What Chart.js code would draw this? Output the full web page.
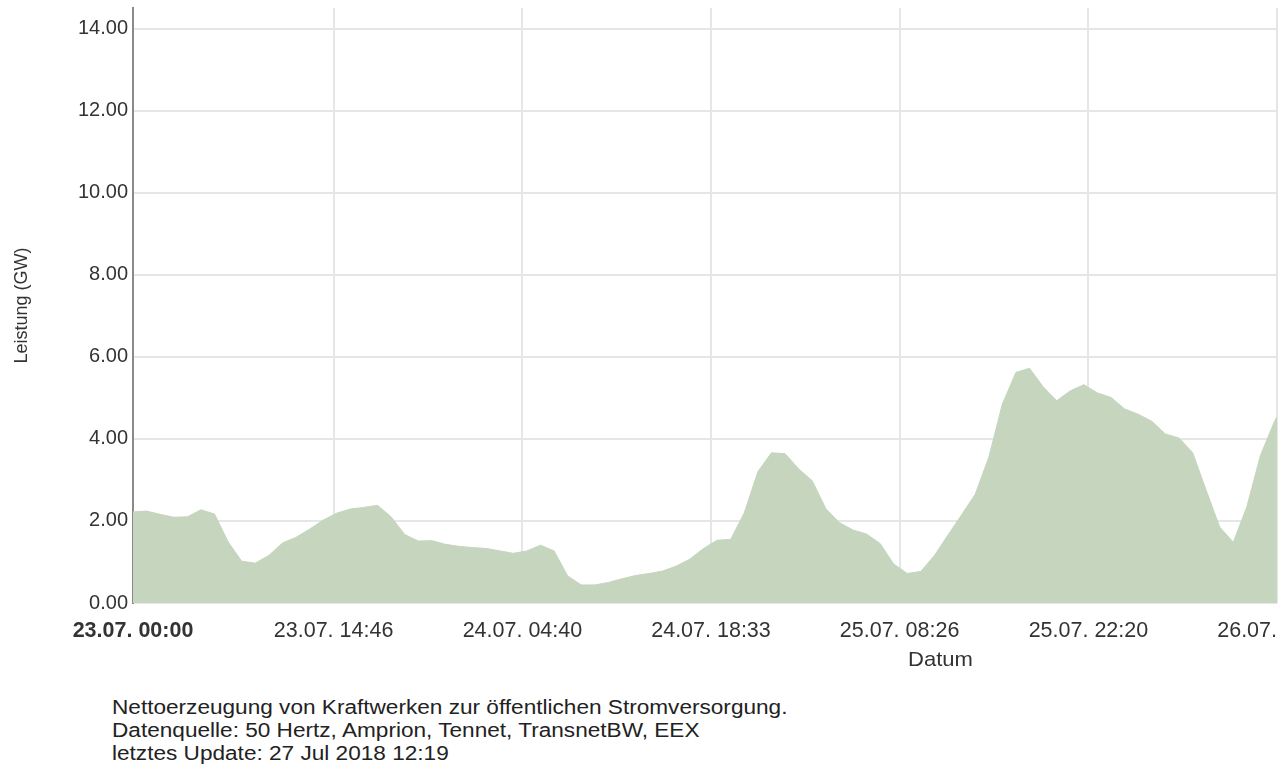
<!DOCTYPE html>
<html>
<head>
<meta charset="utf-8">
<script src="https://cdn.jsdelivr.net/npm/chart.js@4.4.1/dist/chart.umd.min.js"></script>
<style>
  body { margin: 0; overflow: hidden; background: #fff; font-family: "Liberation Sans", Arial, Helvetica, sans-serif; }
  #wrap { position: absolute; left: 0; top: 0; width: 1340px; height: 653px; }
  #datum { position: absolute; left: 908px; top: 647px; font-size: 21px; color: #333; transform: scaleX(1.05); transform-origin: left top; }
  #info { position: absolute; left: 112px; top: 696px; font-size: 20px; line-height: 23px; color: #222; transform: scaleX(1.13); transform-origin: left top; white-space: nowrap; }
</style>
</head>
<body>
<div id="wrap"><canvas id="grapharea"></canvas></div>
<div id="datum">Datum</div>
<div id="info">
  Nettoerzeugung von Kraftwerken zur öffentlichen Stromversorgung.<br>
  Datenquelle: 50 Hertz, Amprion, Tennet, TransnetBW, EEX<br>
  letztes Update: 27 Jul 2018 12:19
</div>
<script>
// stündliche Werte ab 23.07. 00:00 (GW)
const leistungGW = [
  2.22, 2.24, 2.16, 2.09, 2.10, 2.27, 2.17, 1.49, 1.02, 0.97,
  1.16, 1.46, 1.60, 1.80, 2.02, 2.19, 2.29, 2.33, 2.38, 2.10,
  1.67, 1.51, 1.52, 1.43, 1.38, 1.35, 1.33, 1.27, 1.21, 1.27,
  1.41, 1.27, 0.66, 0.44, 0.44, 0.50, 0.59, 0.67, 0.72, 0.78,
  0.90, 1.07, 1.33, 1.53, 1.55, 2.20, 3.20, 3.66, 3.64, 3.27,
  2.98, 2.30, 1.96, 1.78, 1.68, 1.45, 0.95, 0.72, 0.77, 1.16,
  1.66, 2.15, 2.65, 3.55, 4.85, 5.62, 5.72, 5.27, 4.93, 5.17,
  5.32, 5.12, 5.01, 4.73, 4.60, 4.43, 4.12, 4.02, 3.67, 2.75,
  1.85, 1.48, 2.35, 3.60, 4.40
];
// letzter Messwert: 26.07. 12:13
const endeMinuten = 5053;
const endeGW = 4.54;

const tickMinuten = [0, 886, 1720, 2553, 3386, 4220, 5053];
const tickLabels = ['23.07. 00:00', '23.07. 14:46', '24.07. 04:40', '24.07. 18:33', '25.07. 08:26', '25.07. 22:20', '26.07. 12:13'];
const yTicks = [0, 2, 4, 6, 8, 10, 12, 14];

let punkte = leistungGW.map((v, i) => ({ x: i * 60, y: v }));
punkte.push({ x: endeMinuten, y: endeGW });

const grapharea = document.getElementById('grapharea');
const fontFam = '"Liberation Sans", Arial, Helvetica, sans-serif';

let CurrencyChart = new Chart(grapharea, {
    type: 'line',
    data: {
        datasets: [{
            label: 'Leistung',
            data: punkte,
            fill: 'origin',
            backgroundColor: '#c5d5be',
            borderColor: '#c5d5be',
            borderWidth: 1,
            pointRadius: 0,
            tension: 0
        }]
    },
    options: {
        responsive: true,
        maintainAspectRatio: false,
        animation: false,
        layout: { padding: { left: 8, right: 63, top: 8, bottom: 0 } },
        plugins: { legend: { display: false }, tooltip: { enabled: false } },
        scales: {
            x: {
                type: 'linear',
                min: 0,
                max: endeMinuten,
                afterBuildTicks: scale => { scale.ticks = tickMinuten.map(v => ({ value: v })); },
                afterFit: scale => { scale.height = 50; scale.paddingLeft = 0; scale.paddingRight = 0; },
                ticks: {
                    autoSkip: false,
                    maxRotation: 0,
                    padding: 15,
                    color: '#333',
                    font: ctx => ({ family: fontFam, size: 21.5, weight: ctx.index === 0 ? 'bold' : 'normal' }),
                    callback: (value, index) => tickLabels[index]
                },
                grid: { color: '#e6e6e6', lineWidth: 2, drawTicks: false },
                border: { display: false }
            },
            y: {
                min: 0,
                max: 14.5,
                afterBuildTicks: scale => { scale.ticks = yTicks.map(v => ({ value: v })); },
                afterFit: scale => { scale.width = 125; scale.paddingTop = 0; },
                ticks: {
                    padding: 5,
                    color: '#333',
                    font: { family: fontFam, size: 20 },
                    callback: value => value.toFixed(2)
                },
                grid: { color: '#e6e6e6', lineWidth: 2, drawTicks: false },
                border: { display: true, color: '#8a8a8a', width: 2 },
                title: {
                    display: true,
                    text: 'Leistung (GW)',
                    color: '#333',
                    font: { family: fontFam, size: 18 },
                    padding: { top: 3, bottom: 4 }
                }
            }
        }
    }
});
</script>
</body>
</html>
